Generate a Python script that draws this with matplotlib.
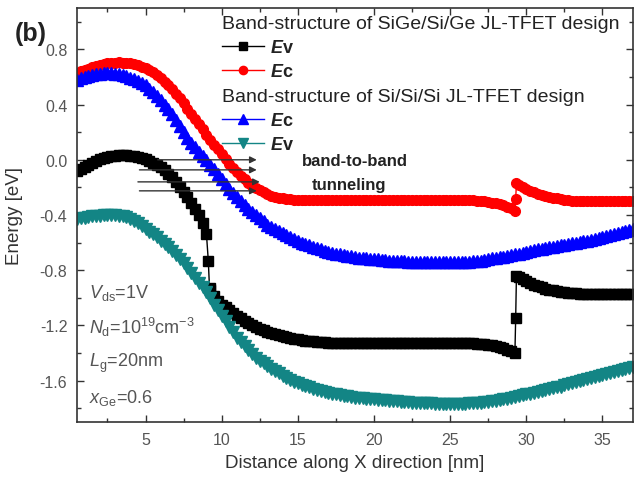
import matplotlib
matplotlib.use("Agg")
import matplotlib.pyplot as plt
from matplotlib.ticker import MultipleLocator, FormatStrFormatter

plt.rcParams["font.family"] = ["Liberation Sans", "DejaVu Sans"]
plt.rcParams["mathtext.fontset"] = "custom"
plt.rcParams["mathtext.rm"] = "Liberation Sans"
plt.rcParams["mathtext.it"] = "Liberation Sans:italic"
plt.rcParams["mathtext.bf"] = "Liberation Sans:italic:bold"
plt.rcParams["axes.unicode_minus"] = False

# sample positions along the channel [nm], 0.25 nm apart
x_grid = [0.5, 0.75,
          1.0, 1.25, 1.5, 1.75, 2.0, 2.25, 2.5, 2.75, 3.0, 3.25, 3.5, 3.75,
          4.0, 4.25, 4.5, 4.75, 5.0, 5.25, 5.5, 5.75, 6.0, 6.25, 6.5, 6.75,
          7.0, 7.25, 7.5, 7.75, 8.0, 8.25, 8.5, 8.75, 9.0, 9.25, 9.5, 9.75,
          10.0, 10.25, 10.5, 10.75, 11.0, 11.25, 11.5, 11.75, 12.0, 12.25,
          12.5, 12.75, 13.0, 13.25, 13.5, 13.75, 14.0, 14.25, 14.5, 14.75,
          15.0, 15.25, 15.5, 15.75, 16.0, 16.25, 16.5, 16.75, 17.0, 17.25,
          17.5, 17.75, 18.0, 18.25, 18.5, 18.75, 19.0, 19.25, 19.5, 19.75,
          20.0, 20.25, 20.5, 20.75, 21.0, 21.25, 21.5, 21.75, 22.0, 22.25,
          22.5, 22.75, 23.0, 23.25, 23.5, 23.75, 24.0, 24.25, 24.5, 24.75,
          25.0, 25.25, 25.5, 25.75, 26.0, 26.25, 26.5, 26.75, 27.0, 27.25,
          27.5, 27.75, 28.0, 28.25, 28.5, 28.75, 29.0, 29.25, 29.5, 29.75,
          30.0, 30.25, 30.5, 30.75, 31.0, 31.25, 31.5, 31.75, 32.0, 32.25,
          32.5, 32.75, 33.0, 33.25, 33.5, 33.75, 34.0, 34.25, 34.5, 34.75,
          35.0, 35.25, 35.5, 35.75, 36.0, 36.25, 36.5, 36.75, 37.0]

# SiGe/Si/Ge design: valence band (black), steps at the two hetero-junctions
x_ev_sige = (x_grid[:35] + [9.12]
             + [9.2, 9.25, 9.5, 9.75] + x_grid[38:116] + [29.3, 29.35]
             + x_grid[116:])
y_ev_sige = [-0.08, -0.065,
             -0.05, -0.035, -0.02, -0.007,
             0.005, 0.013, 0.02, 0.026,
             0.03, 0.033, 0.035, 0.033,
             0.03, 0.026, 0.02, 0.013,
             0.005, -0.007, -0.02, -0.036,
             -0.055, -0.076, -0.10, -0.128,
             -0.16, -0.194, -0.23, -0.27,
             -0.31, -0.355, -0.40, -0.46,
             -0.54,
             -0.73,
             -0.93, -0.94, -0.985, -1.02,
             -1.05, -1.07, -1.09, -1.11,
             -1.13, -1.15, -1.17, -1.185,
             -1.20, -1.213, -1.225, -1.235,
             -1.245, -1.253, -1.26, -1.268,
             -1.275, -1.283, -1.29, -1.295,
             -1.30, -1.305, -1.31, -1.313,
             -1.315, -1.318, -1.32, -1.322,
             -1.325, -1.327, -1.328, -1.329,
             -1.33, -1.33, -1.33, -1.33,
             -1.33, -1.33, -1.33, -1.33,
             -1.33, -1.33, -1.33, -1.33,
             -1.33, -1.33, -1.33, -1.33,
             -1.33, -1.33, -1.33, -1.33,
             -1.33, -1.33, -1.33, -1.33,
             -1.33, -1.33, -1.33, -1.33,
             -1.33, -1.33, -1.33, -1.33,
             -1.33, -1.33, -1.33, -1.332,
             -1.335, -1.337, -1.34, -1.345,
             -1.35, -1.357, -1.365, -1.375,
             -1.385, -1.40,
             -1.15, -0.84,
             -0.85, -0.865,
             -0.88, -0.893, -0.905, -0.915,
             -0.925, -0.933, -0.94, -0.945,
             -0.95, -0.955, -0.96, -0.963,
             -0.965, -0.968, -0.97, -0.972,
             -0.975, -0.975, -0.975, -0.975,
             -0.975, -0.975, -0.975, -0.975,
             -0.975, -0.975, -0.975, -0.975,
             -0.975]

# SiGe/Si/Ge design: conduction band (red)
x_ec_sige = x_grid[:116] + [29.3, 29.35] + x_grid[116:]
y_ec_sige = [0.63, 0.64,
             0.65, 0.66, 0.67, 0.678,
             0.685, 0.693, 0.70, 0.703,
             0.705, 0.706, 0.705, 0.703,
             0.70, 0.693, 0.685, 0.676,
             0.665, 0.652, 0.635, 0.614,
             0.59, 0.566, 0.54, 0.511,
             0.48, 0.446, 0.41, 0.37,
             0.33, 0.295, 0.26, 0.22,
             0.18, 0.145, 0.11, 0.075,
             0.04, 0.005, -0.03, -0.06,
             -0.09, -0.115, -0.14, -0.165,
             -0.19, -0.205, -0.22, -0.235,
             -0.25, -0.26, -0.27, -0.275,
             -0.28, -0.283, -0.285, -0.288,
             -0.29, -0.29, -0.29, -0.29,
             -0.29, -0.29, -0.29, -0.29,
             -0.29, -0.29, -0.29, -0.29,
             -0.29, -0.29, -0.29, -0.29,
             -0.29, -0.29, -0.29, -0.29,
             -0.29, -0.29, -0.29, -0.29,
             -0.29, -0.29, -0.29, -0.29,
             -0.29, -0.29, -0.29, -0.29,
             -0.29, -0.29, -0.29, -0.29,
             -0.29, -0.29, -0.29, -0.29,
             -0.29, -0.29, -0.29, -0.29,
             -0.29, -0.29, -0.293, -0.296,
             -0.30, -0.302, -0.305, -0.31,
             -0.315, -0.322, -0.33, -0.34,
             -0.35, -0.37,
             -0.285, -0.17,
             -0.18, -0.195,
             -0.21, -0.223, -0.235, -0.245,
             -0.255, -0.263, -0.27, -0.275,
             -0.28, -0.285, -0.29, -0.293,
             -0.295, -0.297, -0.30, -0.30,
             -0.30, -0.30, -0.30, -0.30,
             -0.30, -0.30, -0.30, -0.30,
             -0.30, -0.30, -0.30, -0.30,
             -0.30]

# Si/Si/Si design: conduction band (blue)
y_ec_si = [0.58, 0.59,
           0.60, 0.608, 0.615, 0.62,
           0.625, 0.628, 0.63, 0.628,
           0.625, 0.62, 0.615, 0.605,
           0.595, 0.583, 0.57, 0.556,
           0.54, 0.516, 0.49, 0.46,
           0.43, 0.40, 0.37, 0.33,
           0.29, 0.245, 0.20, 0.16,
           0.12, 0.09, 0.06, 0.03,
           0.00, -0.035, -0.07, -0.105,
           -0.14, -0.175, -0.21, -0.24,
           -0.27, -0.30, -0.33, -0.355,
           -0.38, -0.40, -0.42, -0.445,
           -0.47, -0.485, -0.50, -0.515,
           -0.53, -0.545, -0.56, -0.575,
           -0.59, -0.60, -0.61, -0.62,
           -0.63, -0.64, -0.65, -0.658,
           -0.665, -0.672, -0.68, -0.685,
           -0.69, -0.695, -0.70, -0.705,
           -0.71, -0.712, -0.715, -0.718,
           -0.72, -0.722, -0.725, -0.728,
           -0.73, -0.732, -0.735, -0.736,
           -0.737, -0.738, -0.74, -0.741,
           -0.742, -0.742, -0.742, -0.742,
           -0.742, -0.742, -0.742, -0.742,
           -0.742, -0.742, -0.742, -0.741,
           -0.74, -0.738, -0.735, -0.733,
           -0.73, -0.725, -0.72, -0.715,
           -0.71, -0.708, -0.705, -0.698,
           -0.69, -0.685, -0.68, -0.672,
           -0.665, -0.66, -0.655, -0.65,
           -0.645, -0.64, -0.635, -0.63,
           -0.625, -0.62, -0.615, -0.61,
           -0.605, -0.60, -0.595, -0.59,
           -0.585, -0.58, -0.575, -0.568,
           -0.56, -0.553, -0.545, -0.538,
           -0.53, -0.523, -0.515, -0.508,
           -0.50]

# Si/Si/Si design: valence band (teal)
y_ev_si = [-0.43, -0.425,
           -0.42, -0.415, -0.41, -0.408,
           -0.405, -0.402, -0.40, -0.40,
           -0.40, -0.404, -0.41, -0.418,
           -0.43, -0.444, -0.46, -0.48,
           -0.50, -0.52, -0.54, -0.562,
           -0.585, -0.61, -0.635, -0.662,
           -0.69, -0.72, -0.75, -0.785,
           -0.82, -0.855, -0.89, -0.925,
           -0.96, -1.005, -1.05, -1.09,
           -1.13, -1.17, -1.21, -1.25,
           -1.29, -1.32, -1.35, -1.38,
           -1.41, -1.433, -1.455, -1.475,
           -1.495, -1.513, -1.53, -1.548,
           -1.565, -1.58, -1.595, -1.608,
           -1.62, -1.63, -1.64, -1.65,
           -1.66, -1.668, -1.675, -1.683,
           -1.69, -1.695, -1.70, -1.705,
           -1.71, -1.715, -1.72, -1.723,
           -1.725, -1.728, -1.73, -1.733,
           -1.735, -1.738, -1.74, -1.743,
           -1.745, -1.748, -1.75, -1.753,
           -1.755, -1.758, -1.76, -1.761,
           -1.762, -1.764, -1.765, -1.766,
           -1.767, -1.767, -1.767, -1.767,
           -1.767, -1.767, -1.767, -1.767,
           -1.767, -1.766, -1.765, -1.763,
           -1.76, -1.758, -1.755, -1.75,
           -1.745, -1.74, -1.735, -1.73,
           -1.725, -1.72, -1.715, -1.708,
           -1.70, -1.695, -1.69, -1.683,
           -1.675, -1.668, -1.66, -1.655,
           -1.65, -1.643, -1.635, -1.628,
           -1.62, -1.613, -1.605, -1.598,
           -1.59, -1.583, -1.575, -1.568,
           -1.56, -1.553, -1.545, -1.538,
           -1.53, -1.523, -1.515, -1.508,
           -1.50]

# band-to-band tunneling arrows
arrow_y = [0.0, -0.073, -0.16, -0.225]
arrow_x0 = [5.8, 4.6, 4.5, 4.6]
arrow_x1 = [12.3, 12.3, 12.5, 12.3]

params = [r"$V_{\mathrm{ds}}$=1V",
          r"$N_{\mathrm{d}}$=10$^{19}$cm$^{-3}$",
          r"$L_{\mathrm{g}}$=20nm",
          r"$x_{\mathrm{Ge}}$=0.6"]
params_y = [-0.96, -1.21, -1.47, -1.72]

fig = plt.figure(figsize=(6.4, 4.81), dpi=100)
ax = fig.add_axes([0.1203, 0.1206, 0.8687, 0.8607])

l1, = ax.plot(x_ev_sige, y_ev_sige, color="black", marker="s", ms=7, lw=1,
              mec="black", label=r"$\mathbf{E}$v")
l2, = ax.plot(x_ec_sige, y_ec_sige, color="#ff0000", marker="o", ms=7, lw=1,
              mec="#ff0000", label=r"$\mathbf{E}$c")
l3, = ax.plot(x_grid, y_ec_si, color="#0000ff", marker="^", ms=8, lw=1,
              mec="#0000ff", label=r"$\mathbf{E}$c")
l4, = ax.plot(x_grid, y_ev_si, color="#138585", marker="v", ms=8, lw=1,
              mec="#138585", label=r"$\mathbf{E}$v")

for y, xa, xb in zip(arrow_y, arrow_x0, arrow_x1):
    ax.annotate("", xy=(xb, y), xytext=(xa, y),
                arrowprops=dict(arrowstyle="-|>", color="#333333", lw=1,
                                mutation_scale=10, shrinkA=0, shrinkB=0),
                zorder=5)

ax.text(15.26, -0.007, "band-to-band", fontsize=12, fontweight="bold",
        color="#222222", va="center", ha="left")
ax.text(15.9, -0.18, "tunneling", fontsize=12, fontweight="bold",
        color="#222222", va="center", ha="left")

for y, s in zip(params_y, params):
    ax.text(1.3, y, s, fontsize=13, color="#555555", va="center", ha="left")

ax.set_xlim(0.5, 37)
ax.set_ylim(-1.9, 1.1)
ax.xaxis.set_major_locator(MultipleLocator(5))
ax.xaxis.set_minor_locator(MultipleLocator(2.5))
ax.yaxis.set_major_locator(MultipleLocator(0.4))
ax.yaxis.set_minor_locator(MultipleLocator(0.2))
ax.yaxis.set_major_formatter(FormatStrFormatter("%.1f"))
ax.tick_params(which="both", direction="in", top=True, right=True,
               colors="#333333", labelcolor="#555555")
ax.tick_params(which="major", length=5, width=1, labelsize=11.5, pad=7)
ax.tick_params(which="minor", length=3, width=1)
for sp in ax.spines.values():
    sp.set_color("#333333")
    sp.set_linewidth(1.2)

ax.set_xlabel("Distance along X direction [nm]", fontsize=13.5, color="#333333")
ax.set_ylabel("Energy [eV]", fontsize=13.5, color="#333333")
ax.xaxis.set_label_coords(0.5, -0.078)
ax.yaxis.set_label_coords(-0.097, 0.5)

leg_kw = dict(loc="upper left", frameon=False, alignment="left",
              prop={"size": 13, "weight": "bold"}, title_fontsize=14,
              handlelength=2.3, handletextpad=0.33, borderpad=0,
              borderaxespad=0, labelspacing=0.4, numpoints=1,
              markerscale=0.85)
leg1 = ax.legend(handles=[l1, l2],
                 title="Band-structure of SiGe/Si/Ge JL-TFET design",
                 bbox_to_anchor=(0.261, 0.983), **leg_kw)
ax.add_artist(leg1)
leg2 = ax.legend(handles=[l3, l4],
                 title="Band-structure of Si/Si/Si JL-TFET design",
                 bbox_to_anchor=(0.261, 0.807), **leg_kw)
for lg in (leg1, leg2):
    lg.get_title().set_color("#222222")
    for t in lg.get_texts():
        t.set_color("#222222")

fig.text(0.023, 0.929, "(b)", fontsize=18, fontweight="bold", color="#222222",
         va="center", ha="left")

fig.savefig("out.png", dpi=100)
